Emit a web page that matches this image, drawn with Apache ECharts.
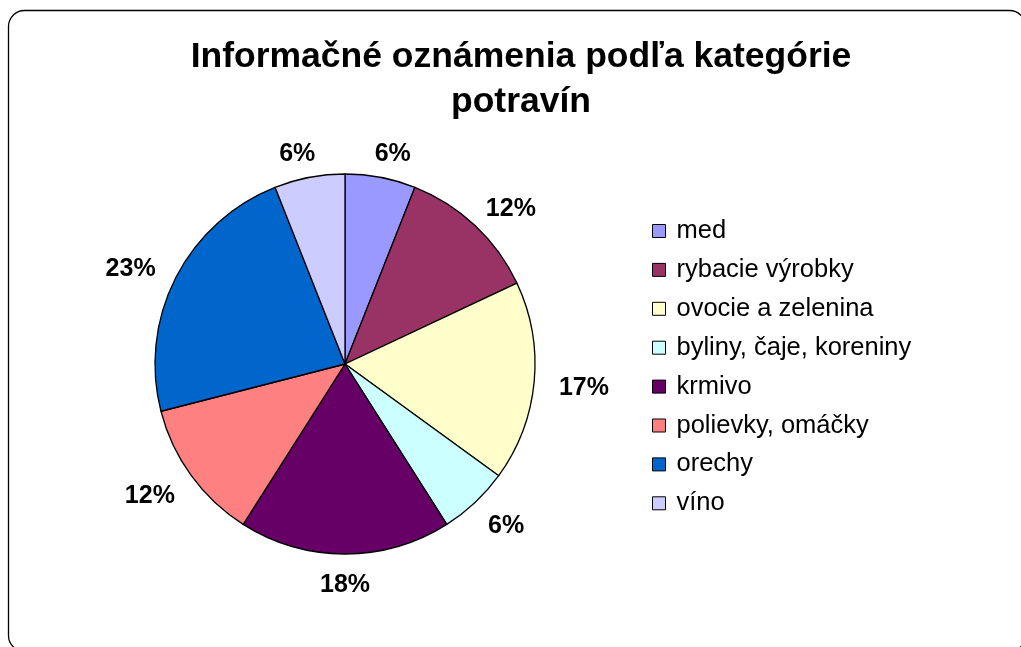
<!DOCTYPE html>
<html>
<head>
<meta charset="utf-8">
<script src="https://cdn.jsdelivr.net/npm/echarts@6/dist/echarts.min.js"></script>
<style>
  html, body { margin: 0; padding: 0; background: #fff; }
  #chart { width: 1021px; height: 647px; }
</style>
</head>
<body>
<div id="chart"></div>
<script>
// Food categories and their share of notifications (%)
const categories = [
  'med',
  'rybacie výrobky',
  'ovocie a zelenina',
  'byliny, čaje, koreniny',
  'krmivo',
  'polievky, omáčky',
  'orechy',
  'víno'
];
const shares = [6, 12, 17, 6, 18, 12, 23, 6];
const sliceColors = ['#9999FF', '#993366', '#FFFFCC', '#CCFFFF', '#660066', '#FF8080', '#0066CC', '#CCCCFF'];

const PIE_CX = 345, PIE_CY = 364, PIE_R = 190;
// distance from the centre to the inner side of each percentage label
const LABEL_RX = 210, LABEL_RY = 205;
const LABEL_SIDE_SHIFT = 5, LABEL_DROP = 4;

const total = shares.reduce((a, b) => a + b, 0);
const midAngles = [];
let acc = 0;
shares.forEach(v => {
  midAngles.push(2 * Math.PI * (acc + v / 2) / total);
  acc += v;
});

const chart = echarts.init(document.getElementById('chart'), null, { renderer: 'canvas' });

chart.setOption({
  backgroundColor: '#ffffff',
  animation: false,
  color: sliceColors,
  title: {
    text: 'Informačné oznámenia podľa kategórie\npotravín',
    left: 521,
    textAlign: 'center',
    top: 35,
    padding: 0,
    textStyle: {
      fontFamily: 'Arial, "Liberation Sans", sans-serif',
      fontWeight: 'bold',
      fontSize: 35.5,
      lineHeight: 45,
      color: '#000'
    }
  },
  legend: {
    orient: 'vertical',
    left: 652,
    top: 218,
    padding: 0,
    icon: 'rect',
    itemWidth: 13,
    itemHeight: 13,
    itemGap: 12.9,
    data: categories,
    textStyle: {
      fontFamily: 'Arial, "Liberation Sans", sans-serif',
      fontSize: 25.5,
      color: '#000',
      padding: [0, 0, 0, 6]
    },
    itemStyle: { borderColor: '#000', borderWidth: 1 }
  },
  graphic: [{
    type: 'rect',
    silent: true,
    shape: { x: 8.5, y: 10.5, width: 1017, height: 641, r: 16 },
    style: { fill: 'none', stroke: '#000', lineWidth: 1.3 }
  }],
  series: [{
    type: 'pie',
    center: [PIE_CX, PIE_CY],
    radius: PIE_R,
    startAngle: 90,
    clockwise: true,
    avoidLabelOverlap: false,
    data: categories.map((name, i) => ({ name, value: shares[i] })),
    itemStyle: { borderColor: '#000', borderWidth: 1.3 },
    label: {
      show: true,
      position: 'outside',
      formatter: p => shares[p.dataIndex] + '%',
      fontFamily: 'Arial, "Liberation Sans", sans-serif',
      fontWeight: 'bold',
      fontSize: 25,
      color: '#000'
    },
    labelLine: { show: false, length: 0, length2: 0 },
    emphasis: { disabled: true },
    labelLayout: function (params) {
      const th = midAngles[params.dataIndex];
      const ux = Math.sin(th), uy = -Math.cos(th);
      const w = params.labelRect.width, h = params.labelRect.height;
      const side = Math.abs(ux) < 0.01 ? 0 : Math.sign(ux);
      return {
        x: PIE_CX + ux * (LABEL_RX + w / 2) + side * LABEL_SIDE_SHIFT,
        y: PIE_CY + uy * (LABEL_RY + h / 2) + LABEL_DROP,
        align: 'center',
        verticalAlign: 'middle'
      };
    }
  }]
});
</script>
</body>
</html>
